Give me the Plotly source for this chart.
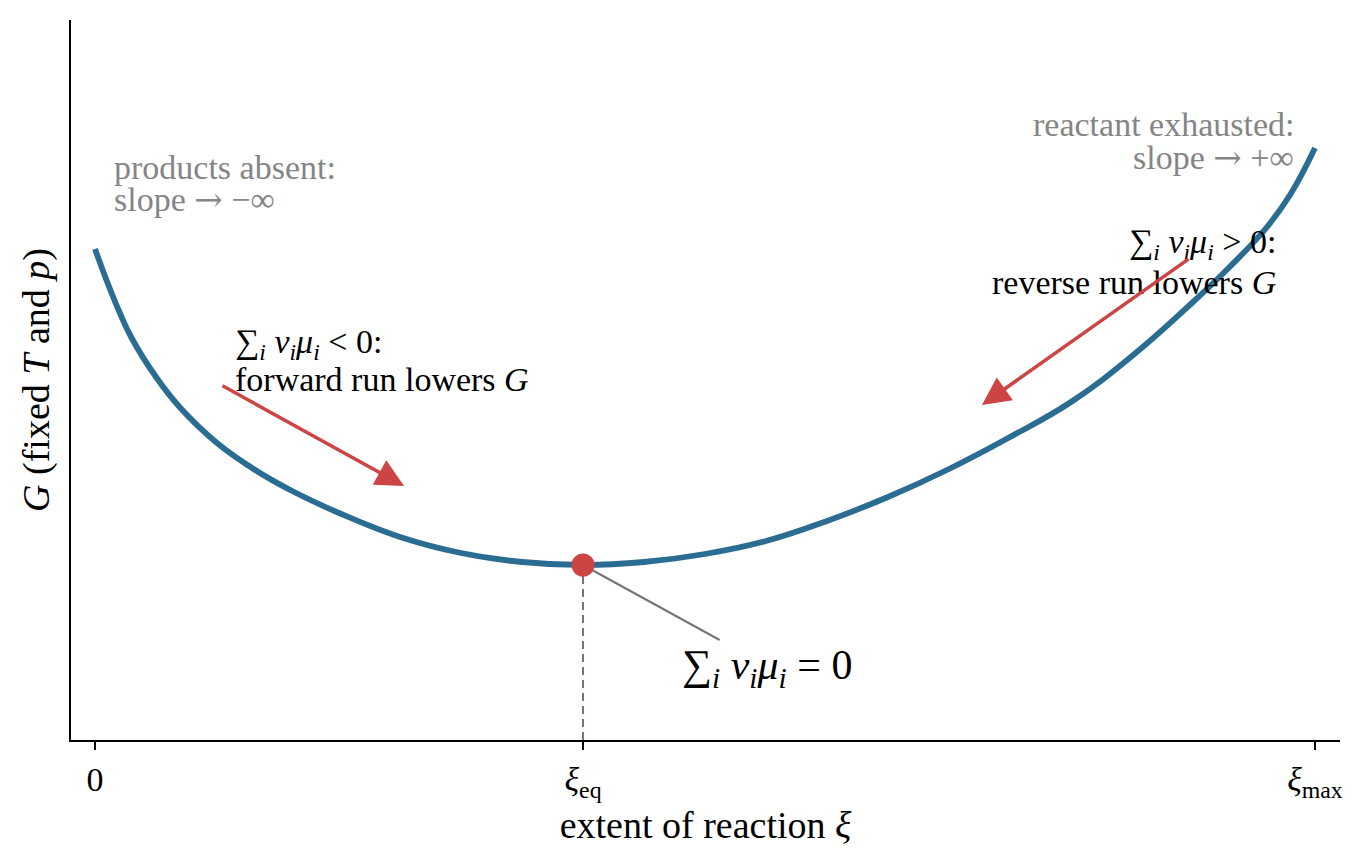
import plotly.graph_objects as go

# ---- data ----
xi_values = [0.00, 0.01, 0.02, 0.03, 0.05, 0.07, 0.10, 0.13, 0.16, 0.20, 0.25,
             0.30, 0.35, 0.40, 0.45, 0.50, 0.55, 0.60, 0.65, 0.70, 0.75, 0.80,
             0.85, 0.90, 0.93, 0.96, 0.98, 1.00]
G_values = [4.91, 4.58, 4.28, 4.02, 3.63, 3.32, 2.97, 2.71, 2.50, 2.27, 2.03,
            1.87, 1.78, 1.75, 1.78, 1.86, 1.99, 2.19, 2.43, 2.71, 3.03, 3.38,
            3.84, 4.38, 4.73, 5.12, 5.46, 5.92]
xi_eq = 0.40
G_eq = 1.75
tick_values = [0.0, xi_eq, 1.0]
tick_labels = ["0", "<i>ξ</i><sub>eq</sub>", "<i>ξ</i><sub>max</sub>"]

BLUE = "#2b6d92"
RED = "#cc4444"
GREY = "#858585"
LINE_GREY = "#757575"
FONT = "Liberation Serif"
ARROW = "<span style='font-family:DejaVu Serif'>→</span>"

fig = go.Figure()

fig.add_trace(go.Scatter(
    x=xi_values, y=G_values, mode="lines",
    line=dict(color=BLUE, width=5.8, shape="spline", smoothing=1.2),
    hoverinfo="skip", showlegend=False))

fig.add_trace(go.Scatter(
    x=[xi_eq], y=[G_eq], mode="markers",
    marker=dict(color=RED, size=23, line=dict(width=0)),
    hoverinfo="skip", showlegend=False))

# dashed drop line and connector line (below traces)
fig.add_shape(type="line", x0=xi_eq, x1=xi_eq, y0=0, y1=G_eq, xref="x", yref="y",
              line=dict(color=LINE_GREY, width=2, dash="8px,5px"), layer="below")
fig.add_shape(type="line", x0=xi_eq, y0=G_eq, x1=0.512, y1=1.00, xref="x", yref="y",
              line=dict(color=LINE_GREY, width=2), layer="below")

annotations = []

def txt(x, y, text, anchor, color="black", size=34):
    annotations.append(dict(x=x, y=y, xref="x", yref="y", text=text, showarrow=False,
                            xanchor=anchor, yanchor="middle",
                            font=dict(family=FONT, size=size, color=color)))

txt(0.0139, 5.73, "products absent:", "left", GREY)
txt(0.0139, 5.41, "slope " + ARROW + " −∞", "left", GREY)
txt(0.9844, 6.16, "reactant exhausted:", "right", GREY)
txt(0.9844, 5.83, "slope " + ARROW + " +∞", "right", GREY)
txt(0.1131, 3.96, "∑<sub><i>i</i></sub> <i>ν<sub>i</sub>μ<sub>i</sub></i> &lt; 0:", "left")
txt(0.1131, 3.61, "forward run lowers <i>G</i>", "left")
txt(0.9697, 4.96, "∑<sub><i>i</i></sub> <i>ν<sub>i</sub>μ<sub>i</sub></i> &gt; 0:", "right")
txt(0.9697, 4.58, "reverse run lowers <i>G</i>", "right")
txt(0.4795, 0.72, "∑<sub><i>i</i></sub> <i>ν<sub>i</sub>μ<sub>i</sub></i> = 0", "left", size=42)

# arrows
for (hx, hy, tx, ty) in [(0.2533, 2.54, 0.1033, 3.55), (0.727, 3.35, 0.8975, 4.82)]:
    annotations.append(dict(x=hx, y=hy, ax=tx, ay=ty, xref="x", yref="y",
                            axref="x", ayref="y", text="", showarrow=True,
                            arrowhead=2, arrowsize=1.6, arrowwidth=3.5,
                            arrowcolor=RED, standoff=0, startstandoff=0))

fig.update_layout(
    width=1369, height=864,
    margin=dict(l=63, r=37, t=12, b=132),
    paper_bgcolor="white", plot_bgcolor="white",
    font=dict(family=FONT, color="black"),
    showlegend=False,
    annotations=annotations,
    xaxis=dict(range=[-0.0197, 1.0205], tickvals=tick_values, ticktext=tick_labels,
               ticks="outside", ticklen=8, tickwidth=1.5, tickcolor="black",
               showline=True, linecolor="black", linewidth=1.8,
               showgrid=False, zeroline=False,
               tickfont=dict(family=FONT, size=34, color="black"),
               title=dict(text="extent of reaction <i>ξ</i>", standoff=10,
                          font=dict(family=FONT, size=38, color="black"))),
    yaxis=dict(range=[0, 7.2], showticklabels=False, ticks="",
               showline=True, linecolor="black", linewidth=1.8,
               showgrid=False, zeroline=False,
               title=dict(text="<i>G</i> (fixed <i>T</i> and <i>p</i>)", standoff=8,
                          font=dict(family=FONT, size=38, color="black"))),
)

fig.write_html("out.html")
